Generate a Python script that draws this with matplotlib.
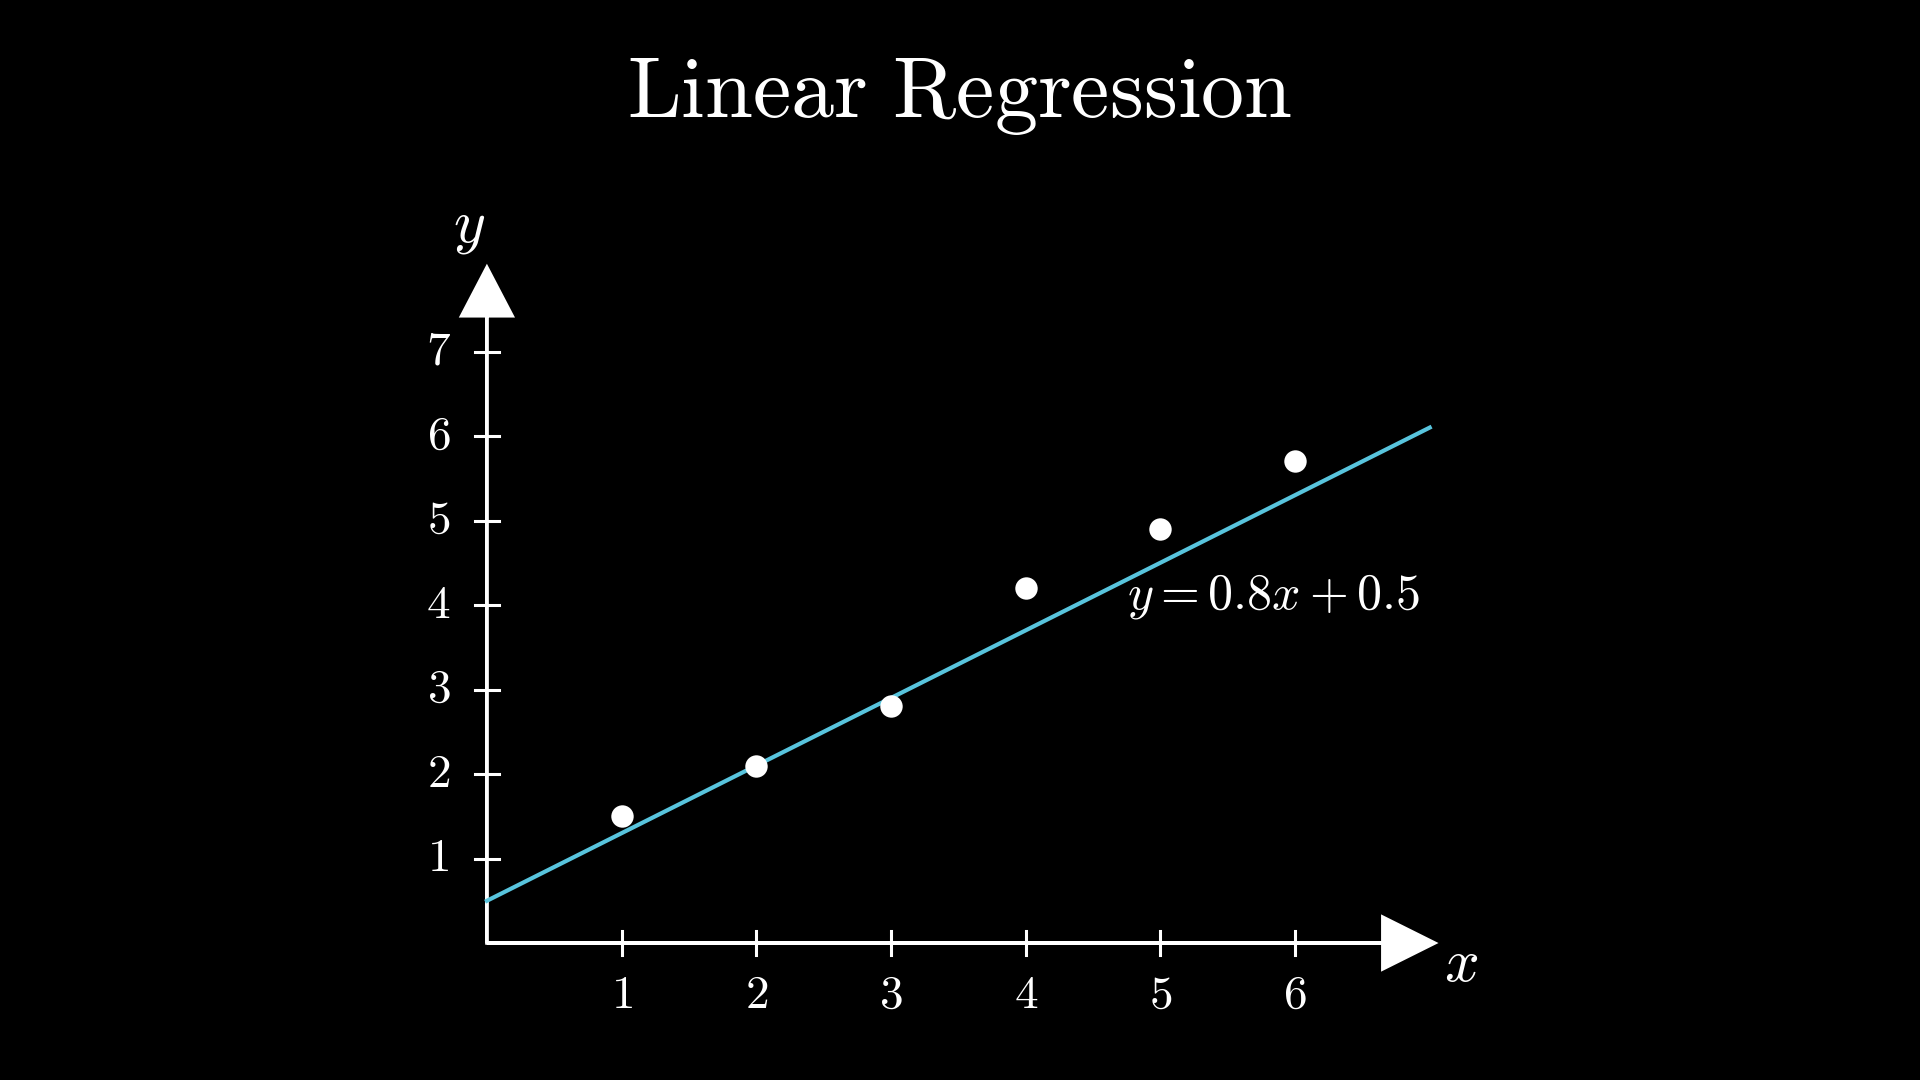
import matplotlib
matplotlib.use("Agg")
import matplotlib.pyplot as plt
import numpy as np

plt.rcParams["mathtext.fontset"] = "cm"
plt.rcParams["font.family"] = "DejaVu Serif"

xs = [1, 2, 3, 4, 5, 6]
ys = [1.5, 2.1, 2.8, 4.2, 4.9, 5.7]
slope, intercept = 0.8, 0.5
xticks = [1, 2, 3, 4, 5, 6]
yticks = [1, 2, 3, 4, 5, 6, 7]
blue = "#58C4DD"

fig = plt.figure(figsize=(19.2, 10.8), dpi=100, facecolor="black")
ax = fig.add_axes([0, 0, 1, 1])
ax.set_facecolor("black")
ax.set_xlim(-3.615, 10.64)
ax.set_ylim(-1.621, 11.16)
ax.axis("off")

# axes with arrows
ax.arrow(0, 0, 7.04, 0, color="white", lw=2.2, head_width=0.62, head_length=0.39,
         length_includes_head=True, zorder=2)
ax.arrow(0, 0, 0, 8.0, color="white", lw=2.2, head_width=0.38, head_length=0.58,
         length_includes_head=True, zorder=2)

for t in xticks:
    ax.plot([t, t], [-0.14, 0.14], color="white", lw=2.2)
    ax.text(t, -0.62, rf"${t}$", color="white", fontsize=34, ha="center", va="center")
for t in yticks:
    ax.plot([-0.09, 0.09], [t, t], color="white", lw=2.2)
    ax.text(-0.36, t, rf"${t}$", color="white", fontsize=34, ha="center", va="center")

ax.text(7.23, -0.25, r"$x$", color="white", fontsize=44, ha="center", va="center")
ax.text(-0.13, 8.48, r"$y$", color="white", fontsize=44, ha="center", va="center")

lx = np.array([0, 7.0])
ax.plot(lx, slope * lx + intercept, color=blue, lw=3, zorder=3)
ax.scatter(xs, ys, s=260, color="white", zorder=4, linewidths=0)

ax.text(4.75, 4.1, r"$y = 0.8x + 0.5$", color="white", fontsize=36, ha="left", va="center")

fig.text(0.5, 0.912, r"$\mathrm{Linear\ Regression}$", color="white", fontsize=62,
         ha="center", va="center")

fig.savefig("out.png", dpi=100, facecolor="black")
